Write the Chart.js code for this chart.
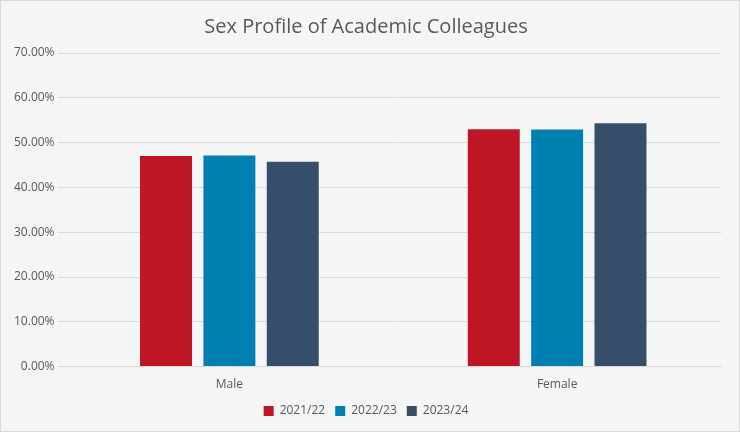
<!DOCTYPE html>
<html><head><meta charset="utf-8">
<script src="https://cdn.jsdelivr.net/npm/chart.js@4/dist/chart.umd.min.js"></script>
<style>html,body{margin:0;padding:0;background:#f4f5f5;}#w{width:738px;height:430px;border:1px solid #d9d9d9;background:#f4f5f5;}</style>
</head><body><div id="w"><canvas id="c" width="738" height="430"></canvas></div>
<script>
const categories = ["Male", "Female"];
const seriesNames = ["2021/22", "2022/23", "2023/24"];
const v2122 = [0.470, 0.530];
const v2223 = [0.471, 0.529];
const v2324 = [0.457, 0.543];
const colors = ["#BE1622", "#0080B0", "#354F6B"];
new Chart(document.getElementById('c'), {
  type: 'bar',
  data: { labels: categories, datasets: [v2122, v2223, v2324].map((d, i) => ({
    label: seriesNames[i], data: d, backgroundColor: colors[i],
    categoryPercentage: 0.58, barPercentage: 0.82 })) },
  options: {
    responsive: false, animation: false,
    layout: { padding: { left: 10, right: 18, top: 4, bottom: 4 } },
    plugins: {
      title: { display: true, text: 'Sex Profile of Academic Colleagues', color: '#595959',
        font: { family: 'Open Sans', size: 20, weight: 'normal' }, padding: { top: 10, bottom: 14 } },
      legend: { position: 'bottom', labels: { boxWidth: 10, boxHeight: 10, color: '#595959',
        font: { family: 'Open Sans', size: 12 }, padding: 10 } }
    },
    scales: {
      x: { grid: { display: false }, border: { color: '#d9d9d9' },
        ticks: { color: '#595959', font: { family: 'Open Sans', size: 12 } } },
      y: { min: 0, max: 0.7, grid: { color: '#d9d9d9' }, border: { display: false },
        ticks: { stepSize: 0.1, color: '#595959', font: { family: 'Open Sans', size: 12 },
          callback: v => (v * 100).toFixed(2) + '%' } }
    }
  }
});
</script></body></html>
